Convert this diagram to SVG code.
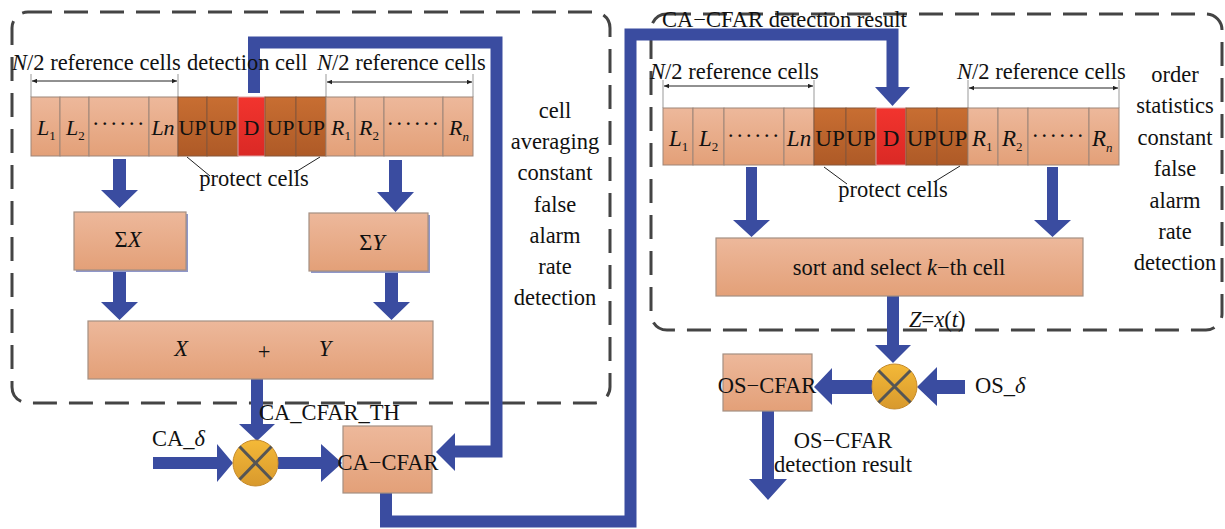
<svg xmlns="http://www.w3.org/2000/svg" width="1225" height="529" viewBox="0 0 1225 529">
<defs>
<linearGradient id="gL" x1="0" y1="0" x2="0" y2="1"><stop offset="0" stop-color="#EDB89B"/><stop offset="1" stop-color="#E3A078"/></linearGradient>
<linearGradient id="gU" x1="0" y1="0" x2="0" y2="1"><stop offset="0" stop-color="#C86E32"/><stop offset="1" stop-color="#AE5A27"/></linearGradient>
<linearGradient id="gD" x1="0" y1="0" x2="0" y2="1"><stop offset="0" stop-color="#F2342E"/><stop offset="1" stop-color="#DA2925"/></linearGradient>
<linearGradient id="gG" x1="0" y1="0" x2="0" y2="1"><stop offset="0" stop-color="#F4B938"/><stop offset="1" stop-color="#D8992D"/></linearGradient>
<marker id="ah" viewBox="0 0 10 10" refX="10" refY="5" markerWidth="7" markerHeight="5" orient="auto-start-reverse" markerUnits="userSpaceOnUse"><path d="M0,0.5 L10,5 L0,9.5 Z" fill="#222"/></marker>
<style>
.t{font-family:"Liberation Serif","Times New Roman",serif;font-size:22.5px;fill:#111}
.c{font-size:22px}
.r{font-size:23px}
.i{font-style:italic}
.sb{font-size:13px}
.m{text-anchor:middle}
.lc{fill:url(#gL);stroke:#9d8578;stroke-width:1}
.uc{fill:url(#gU);stroke:#86573a;stroke-width:1}
.dc{fill:url(#gD);stroke:#d9a0a0;stroke-width:1}
.box{fill:url(#gL);stroke:#a48f82;stroke-width:1.2}
.shd{fill:#8f97c9}
.dash{fill:none;stroke:#444;stroke-width:3;stroke-dasharray:24 12}
.bl{fill:#3A4CA0}
.route{fill:none;stroke:#3A4CA0;stroke-width:12;stroke-linejoin:miter}
.brk{stroke:#999;stroke-width:1;fill:none}
.arr{stroke:#222;stroke-width:1;fill:none}
.cx{stroke:#555;stroke-width:3;fill:none}
.circ{fill:url(#gG);stroke:#c58a2a;stroke-width:1}
</style>
</defs>
<rect width="1225" height="529" fill="#fff"/>

<!-- dashed frames -->
<g id="frames">
<rect class="dash" x="12" y="12" width="598" height="391" rx="16"/>
<rect class="dash" x="651" y="14" width="571" height="316" rx="16"/>
</g>

<!-- connectors -->
<g id="connectors">
<path class="route" d="M254 93 V42.5 H496.5 V451.5 H452"/>
<polygon class="bl" points="455,433 455,471 436,452"/>
<path class="route" d="M386 493 V521.5 H630.5 V34.5 H892.5 V88"/>
<polygon class="bl" points="875,87 910,87 892.5,106"/>
<polygon class="bl" points="113,159 126,159 126,190 138,190 119.5,208 101,190 113,190"/>
<polygon class="bl" points="113,270 126,270 126,302 138,302 119.5,320 101,302 113,302"/>
<polygon class="bl" points="389,160 402,160 402,192 414,192 395.5,212 377,192 389,192"/>
<polygon class="bl" points="385,271 398,271 398,302 410,302 391.5,320 373,302 385,302"/>
<polygon class="bl" points="251,379 263,379 263,424 275,424 257,441 239,424 251,424"/>
<polygon class="bl" points="153,457 217,457 217,444 233,463 217,482 217,469 153,469"/>
<polygon class="bl" points="278,457 321,457 321,444 342,463 321,482 321,469 278,469"/>
<polygon class="bl" points="746,167 757,167 757,220 770,220 751.5,237 733,220 746,220"/>
<polygon class="bl" points="1047,167 1058,167 1058,220 1071,220 1052.5,237 1034,220 1047,220"/>
<polygon class="bl" points="887,296 899,296 899,345 911,345 893,363 875,345 887,345"/>
<polygon class="bl" points="965,380 937,380 937,367 917,387 937,406 937,394 965,394"/>
<polygon class="bl" points="872,380 832,380 832,368 814,387 832,405 832,394 872,394"/>
<polygon class="bl" points="762,411 774,411 774,479 787,479 768,500 749,479 762,479"/>
<!-- bracket arrows and pointers -->
<path class="brk" d="M31 74 V97 M178 74 V97 M326 74 V97 M473 74 V97 M663 80 V108 M814 80 V108 M968 80 V108 M1119 80 V108"/>
<line class="arr" x1="32" y1="81" x2="177" y2="81" marker-start="url(#ah)" marker-end="url(#ah)"/>
<line class="arr" x1="327" y1="82" x2="472" y2="82" marker-start="url(#ah)" marker-end="url(#ah)"/>
<line class="arr" x1="664" y1="86" x2="813" y2="86" marker-start="url(#ah)" marker-end="url(#ah)"/>
<line class="arr" x1="969" y1="88" x2="1118" y2="88" marker-start="url(#ah)" marker-end="url(#ah)"/>
<path class="arr" d="M187 157 L210 176 M320 157 L294 173 M824 167 L847 184 M960 166 L934 182"/>
</g>

<!-- CA-CFAR cell row -->
<g id="ca-L1"><rect class="lc" x="31" y="97" width="29" height="59"/><text class="t c i" x="37" y="135">L<tspan class="sb" font-style="normal" dy="5">1</tspan></text></g>
<g id="ca-L2"><rect class="lc" x="60" y="97" width="29" height="59"/><text class="t c i" x="66" y="135">L<tspan class="sb" font-style="normal" dy="5">2</tspan></text></g>
<g id="ca-dots-l"><rect class="lc" x="89" y="97" width="60" height="59"/><text class="t m" x="119" y="131" letter-spacing="1.5">······</text></g>
<g id="ca-Ln"><rect class="lc" x="149" y="97" width="29" height="59"/><text class="t c i m" x="163" y="135">Ln</text></g>
<g id="ca-UP1"><rect class="uc" x="178" y="97" width="29" height="59"/><text class="t c m" x="192.5" y="135">UP</text></g>
<g id="ca-UP2"><rect class="uc" x="207" y="97" width="31" height="59"/><text class="t c m" x="222.5" y="135">UP</text></g>
<g id="ca-D"><rect class="dc" x="238" y="97" width="27" height="59"/><text class="t c m" x="251.5" y="135">D</text></g>
<g id="ca-UP3"><rect class="uc" x="265" y="97" width="31" height="59"/><text class="t c m" x="280.5" y="135">UP</text></g>
<g id="ca-UP4"><rect class="uc" x="296" y="97" width="30" height="59"/><text class="t c m" x="311" y="135">UP</text></g>
<g id="ca-R1"><rect class="lc" x="326" y="97" width="29" height="59"/><text class="t c i" x="331" y="135">R<tspan class="sb" font-style="normal" dy="5">1</tspan></text></g>
<g id="ca-R2"><rect class="lc" x="355" y="97" width="29" height="59"/><text class="t c i" x="359" y="135">R<tspan class="sb" font-style="normal" dy="5">2</tspan></text></g>
<g id="ca-dots-r"><rect class="lc" x="384" y="97" width="59" height="59"/><text class="t m" x="413.5" y="131" letter-spacing="1.5">······</text></g>
<g id="ca-Rn"><rect class="lc" x="443" y="97" width="30" height="59"/><text class="t c i" x="449" y="135">R<tspan class="sb" dy="6">n</tspan></text></g>

<!-- CA labels -->
<g id="ca-labels">
<text class="t" x="12" y="70"><tspan class="i">N</tspan>/2 reference cells</text>
<text class="t" x="187" y="70">detection cell</text>
<text class="t" x="317" y="70"><tspan class="i">N</tspan>/2 reference cells</text>
<text class="t m" x="254" y="186">protect cells</text>
<text class="t m" x="555" y="118">cell</text>
<text class="t m" x="555" y="149">averaging</text>
<text class="t m" x="555" y="180">constant</text>
<text class="t m" x="555" y="212">false</text>
<text class="t m" x="555" y="243">alarm</text>
<text class="t m" x="555" y="274">rate</text>
<text class="t m" x="555" y="305">detection</text>
</g>

<g id="sumX"><rect class="shd" x="76" y="214" width="112" height="58"/><rect class="box" x="74" y="212" width="112" height="58"/><text class="t m" x="128" y="247">Σ<tspan class="i">X</tspan></text></g>
<g id="sumY"><rect class="shd" x="311" y="215" width="119" height="58"/><rect class="box" x="309" y="213" width="119" height="58"/><text class="t m" x="372" y="250">Σ<tspan class="i">Y</tspan></text></g>
<g id="XplusY"><rect class="box" x="88" y="321" width="345" height="58"/><text class="t i m" x="181" y="356">X</text><text class="t m" x="264" y="359" font-size="18">+</text><text class="t i m" x="325" y="356">Y</text></g>

<g id="mult-ca"><ellipse class="circ" cx="255.5" cy="463" rx="22.5" ry="23"/><path class="cx" d="M239.5 446.5 L271.5 479.5 M271.5 446.5 L239.5 479.5"/></g>
<g id="ca-cfar"><rect class="box" x="343" y="426" width="89" height="67"/><text class="t m" x="388" y="470">CA−CFAR</text></g>
<g id="ca-texts">
<text class="t" x="259" y="420">CA_CFAR_TH</text>
<text class="t" x="152" y="446">CA_<tspan class="i">δ</tspan></text>
<text class="t" x="662" y="27">CA−CFAR detection result</text>
</g>

<!-- OS-CFAR cell row -->
<g id="os-L1"><rect class="lc" x="663" y="108" width="30" height="57"/><text class="t r i" x="669" y="146">L<tspan class="sb" font-style="normal" dy="5">1</tspan></text></g>
<g id="os-L2"><rect class="lc" x="693" y="108" width="31" height="57"/><text class="t r i" x="699" y="146">L<tspan class="sb" font-style="normal" dy="5">2</tspan></text></g>
<g id="os-dots-l"><rect class="lc" x="724" y="108" width="60" height="57"/><text class="t m" x="754" y="143" letter-spacing="1.5">······</text></g>
<g id="os-Ln"><rect class="lc" x="784" y="108" width="30" height="57"/><text class="t r i m" x="799" y="146">Ln</text></g>
<g id="os-UP1"><rect class="uc" x="814" y="108" width="32" height="57"/><text class="t r m" x="830" y="146">UP</text></g>
<g id="os-UP2"><rect class="uc" x="846" y="108" width="30" height="57"/><text class="t r m" x="861" y="146">UP</text></g>
<g id="os-D"><rect class="dc" x="876" y="108" width="30" height="57"/><text class="t r m" x="891" y="146">D</text></g>
<g id="os-UP3"><rect class="uc" x="906" y="108" width="31" height="57"/><text class="t r m" x="921.5" y="146">UP</text></g>
<g id="os-UP4"><rect class="uc" x="937" y="108" width="31" height="57"/><text class="t r m" x="952.5" y="146">UP</text></g>
<g id="os-R1"><rect class="lc" x="968" y="108" width="30" height="57"/><text class="t r i" x="972" y="146">R<tspan class="sb" font-style="normal" dy="5">1</tspan></text></g>
<g id="os-R2"><rect class="lc" x="998" y="108" width="30" height="57"/><text class="t r i" x="1002" y="146">R<tspan class="sb" font-style="normal" dy="5">2</tspan></text></g>
<g id="os-dots-r"><rect class="lc" x="1028" y="108" width="61" height="57"/><text class="t m" x="1058.5" y="143" letter-spacing="1.5">······</text></g>
<g id="os-Rn"><rect class="lc" x="1089" y="108" width="30" height="57"/><text class="t r i" x="1092" y="146">R<tspan class="sb" dy="6">n</tspan></text></g>

<g id="os-labels">
<text class="t" x="650" y="79"><tspan class="i">N</tspan>/2 reference cells</text>
<text class="t" x="957" y="79"><tspan class="i">N</tspan>/2 reference cells</text>
<text class="t m" x="893" y="197">protect cells</text>
<text class="t m" x="1175" y="82">order</text>
<text class="t m" x="1175" y="113">statistics</text>
<text class="t m" x="1175" y="145">constant</text>
<text class="t m" x="1175" y="176">false</text>
<text class="t m" x="1175" y="208">alarm</text>
<text class="t m" x="1175" y="239">rate</text>
<text class="t m" x="1175" y="270">detection</text>
</g>

<g id="sort"><rect class="box" x="716" y="238" width="367" height="58"/><text class="t m" x="899" y="275">sort and select <tspan class="i">k</tspan>−th cell</text></g>
<g id="mult-os"><ellipse class="circ" cx="894.5" cy="386.5" rx="22.5" ry="22.5"/><path class="cx" d="M878.5 370.5 L910.5 402.5 M910.5 370.5 L878.5 402.5"/></g>
<g id="os-cfar"><rect class="box" x="723" y="354" width="89" height="57"/><text class="t m" x="767" y="393">OS−CFAR</text></g>
<g id="os-texts">
<text class="t" x="909" y="327"><tspan class="i">Z</tspan>=<tspan class="i">x</tspan>(<tspan class="i">t</tspan>)</text>
<text class="t" x="975" y="393">OS_<tspan class="i">δ</tspan></text>
<text class="t m" x="843" y="448">OS−CFAR</text>
<text class="t m" x="843" y="472">detection result</text>
</g>
</svg>
